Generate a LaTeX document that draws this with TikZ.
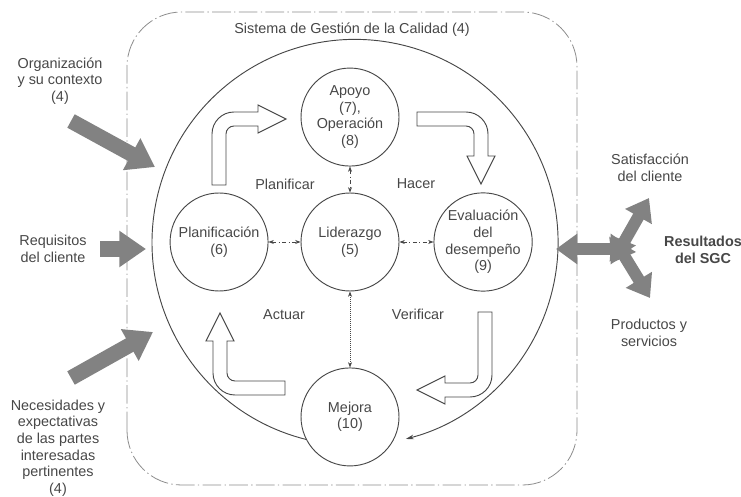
\documentclass[tikz,border=0pt]{standalone}
\usepackage{fontspec}
\setmainfont{Liberation Sans}
\usepackage{xcolor}
\definecolor{ink}{HTML}{474747}
\definecolor{shade}{HTML}{828282}
\definecolor{framegray}{HTML}{8C8C8C}
\usepackage{tikz}
\usetikzlibrary{arrows.meta,positioning,calc}

% hollow bent arrow: corner, rotation, tail length, tip length
\newcommand{\bentarrow}[4]{%
  \draw[bent,shift={#1},rotate=#2] (0,-#3) -- (0,-22) arc[start angle=180,end angle=90,radius=22]
    -- (#4-28,0) -- (#4-28,7) -- (#4,-7) -- (#4-28,-21) -- (#4-28,-14) -- (22,-14)
    arc[start angle=90,end angle=180,radius=8] -- (14,-#3) -- cycle;}

\begin{document}
\begin{tikzpicture}[
  x=0.75pt,y=0.75pt,
  font=\fontsize{10.8}{12.5}\selectfont,text=ink,
  proc/.style={circle,draw=ink,line width=0.7pt,minimum size=73.5pt,inner sep=0pt,align=center},
  txt/.style={align=center},
  link/.style={{Stealth[length=4pt,width=3pt]}-{Stealth[length=4pt,width=3pt]},draw=ink,line width=0.5pt,dash dot},
  bent/.style={draw=ink,line width=0.7pt,fill=white},
  cycle/.style={-{Stealth[length=6pt,width=3.5pt]},draw=ink,line width=0.7pt},
  inarrow/.style={-{Triangle[length=20pt,width=26pt]},draw=shade,line width=11.5pt},
  outarrow/.style={{Triangle[length=16pt,width=22pt]}-{Triangle[length=16pt,width=22pt]},draw=shade,line width=9pt},
  frame/.style={draw=framegray,line width=0.6pt,dash pattern=on 14pt off 2.5pt on 1pt off 2.5pt,rounded corners=41pt}
]
\useasboundingbox (0,0) rectangle (741,496);

% system boundary
\draw[frame] (127,11) rectangle (577,484);
\node[txt] (title) at (352,466) {Sistema de Gestión de la Calidad (4)};

% PDCA processes
\node[proc] (lider) at (350,254) {Liderazgo\\(5)};
\node[proc,left=24pt of lider] (plan) {Planificación\\(6)};
\node[proc,right=25.5pt of lider] (eval) {Evaluación\\del\\desempeño\\(9)};
\node[proc,above=19.5pt of lider] (apoyo) {Apoyo\\(7),\\Operación\\(8)};
\node[proc,below=57pt of lider] (mejora) {Mejora\\(10)};

\draw[link] (plan) -- (lider);
\draw[link] (lider) -- (eval);
\draw[link] (apoyo) -- (lider);
\draw[link,densely dotted] (lider) -- (mejora);

% outer cycle
\draw[cycle] (mejora.207) arc[start angle=256,end angle=-75.5,radius=203];

% bent arrows
\bentarrow{(212,384)}{0}{73}{74}
\bentarrow{(488,384)}{-90}{71}{72}
\bentarrow{(492,99)}{180}{85}{75}
\bentarrow{(213,101)}{90}{72}{82}

\node[txt] (planificar) at (285,312) {Planificar};
\node[txt] (hacer) at (416,312) {Hacer};
\node[txt] (actuar) at (284,181) {Actuar};
\node[txt] (verificar) at (418,182) {Verificar};

% inputs
\node[txt] (org) at (60,415) {Organización\\y su contexto\\(4)};
\node[txt] (req) at (53,247) {Requisitos\\del cliente};
\node[txt] (nec) at (58,48) {Necesidades y\\expectativas\\de las partes\\interesadas\\pertinentes\\(4)};
\coordinate (orgtail) at (71,375);
\coordinate (orgtip) at (155,329);
\coordinate (reqtail) at (100,247);
\coordinate (reqtip) at (146,247);
\coordinate (nectail) at (71,118);
\coordinate (nectip) at (153,164);
\draw[inarrow] (orgtail) -- (orgtip);
\draw[inarrow] (reqtail) -- (reqtip);
\draw[inarrow] (nectail) -- (nectip);

% outputs
\coordinate (hub) at (620,247);
\coordinate (back) at (632,247);
\coordinate (outleft) at (556,247);
\coordinate (satis) at (649,298);
\coordinate (prod) at (650,198);
\draw[outarrow] (back) -- (outleft);
\draw[outarrow] ($(hub)!-12pt!(satis)$) -- (satis);
\draw[outarrow] ($(hub)!-12pt!(prod)$) -- (prod);

\node[txt] (satistxt) at (650,328) {Satisfacción\\del cliente};
\node[txt,font=\fontsize{10.8}{12.5}\selectfont\bfseries] (result) at (703,246) {Resultados\\del SGC};
\node[txt] (prodtxt) at (649,163) {Productos y\\servicios};
\end{tikzpicture}
\end{document}
